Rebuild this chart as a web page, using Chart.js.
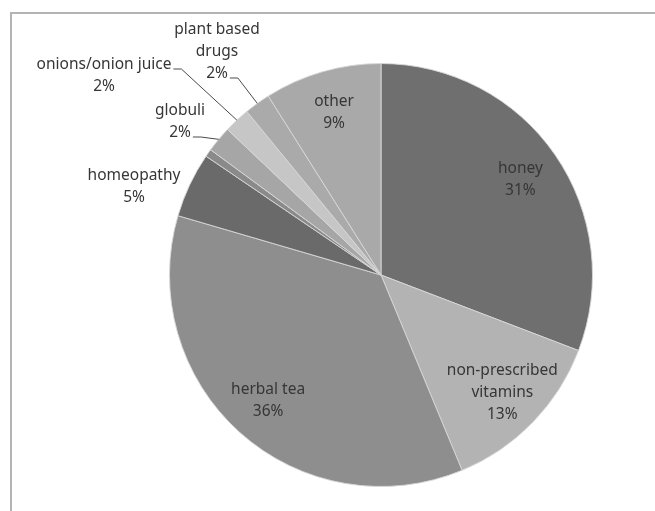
<!DOCTYPE html>
<html>
<head>
<meta charset="utf-8">
<script src="https://cdn.jsdelivr.net/npm/chart.js@4/dist/chart.umd.min.js"></script>
<style>
  html, body { margin: 0; padding: 0; background: #fff; overflow: hidden; }
  canvas { display: block; }
</style>
</head>
<body>
<canvas id="pie" width="655" height="511"></canvas>
<script>
// values (clockwise from 12 o'clock)
const categories = ["honey", "non-prescribed vitamins", "herbal tea", "homeopathy", "", "globuli", "onions/onion juice", "plant based drugs", "other"];
const shares = [31, 13, 36, 5, 0.6, 2, 2, 2, 9];
const pctLabels = ["31%", "13%", "36%", "5%", "", "2%", "2%", "2%", "9%"];
const labelLines = [["honey"], ["non-prescribed", "vitamins"], ["herbal tea"], ["homeopathy"], [], ["globuli"], ["onions/onion juice"], ["plant based", "drugs"], ["other"]];

const sliceColors = ["#6f6f6f", "#b3b3b3", "#8e8e8e", "#6a6a6a", "#8a8a8a", "#a6a6a6", "#c6c6c6", "#aaaaaa", "#a9a9a9"];

// labels that Excel put outside the pie, with the line that carries a leader
const outside = {
  3: { x: 134, y: 187 },
  5: { x: 180, y: 122, leader: 1 },
  6: { x: 104, y: 76, leader: 0 },
  7: { x: 217, y: 52, leader: 2 }
};

const lineH = 22;

const frame = {
  id: "frame",
  beforeDraw(chart) {
    const ctx = chart.ctx;
    ctx.save();
    ctx.strokeStyle = "#b4b4b4";
    ctx.lineWidth = 2;
    ctx.beginPath();
    ctx.moveTo(11, 520);
    ctx.lineTo(11, 13);
    ctx.lineTo(660, 13);
    ctx.stroke();
    ctx.restore();
  }
};

const sliceLabels = {
  id: "sliceLabels",
  afterDatasetsDraw(chart) {
    const ctx = chart.ctx;
    const arcs = chart.getDatasetMeta(0).data;
    ctx.save();
    ctx.font = "15.5px 'Noto Sans'";
    ctx.fillStyle = "#363636";
    ctx.textAlign = "center";
    ctx.textBaseline = "middle";
    arcs.forEach((arc, i) => {
      if (!labelLines[i].length) return;
      const p = arc.getProps(["x", "y", "startAngle", "endAngle", "outerRadius"], true);
      const mid = (p.startAngle + p.endAngle) / 2;
      const lines = labelLines[i].concat([pctLabels[i]]);
      let lx, ly;
      const o = outside[i];
      if (o) {
        lx = o.x; ly = o.y;
      } else {
        lx = p.x + Math.cos(mid) * p.outerRadius * 0.8;
        ly = p.y + Math.sin(mid) * p.outerRadius * 0.8;
      }
      const top = ly - (lines.length - 1) * lineH / 2;
      lines.forEach((t, k) => ctx.fillText(t, lx, top + k * lineH));

      if (o && o.leader !== undefined) {
        const t = lines[o.leader];
        const sx = lx + ctx.measureText(t).width / 2 + 2;
        const sy = top + o.leader * lineH + 4;
        const ex = p.x + Math.cos(mid) * p.outerRadius;
        const ey = p.y + Math.sin(mid) * p.outerRadius;
        ctx.strokeStyle = "#4a4a4a";
        ctx.lineWidth = 1;
        ctx.beginPath();
        ctx.moveTo(sx, sy);
        ctx.lineTo(sx + 8, sy);
        ctx.lineTo(ex, ey);
        ctx.stroke();
      }
    });
    ctx.restore();
  }
};

new Chart(document.getElementById("pie"), {
  type: "pie",
  data: {
    labels: categories,
    datasets: [{
      data: shares,
      backgroundColor: sliceColors,
      borderColor: "rgba(215,215,215,0.9)",
      borderWidth: 1
    }]
  },
  options: {
    responsive: false,
    animation: false,
    layout: { padding: { left: 169, right: 62, top: 63, bottom: 24 } },
    plugins: {
      legend: { display: false },
      tooltip: { enabled: false }
    }
  },
  plugins: [frame, sliceLabels]
});
</script>
</body>
</html>
